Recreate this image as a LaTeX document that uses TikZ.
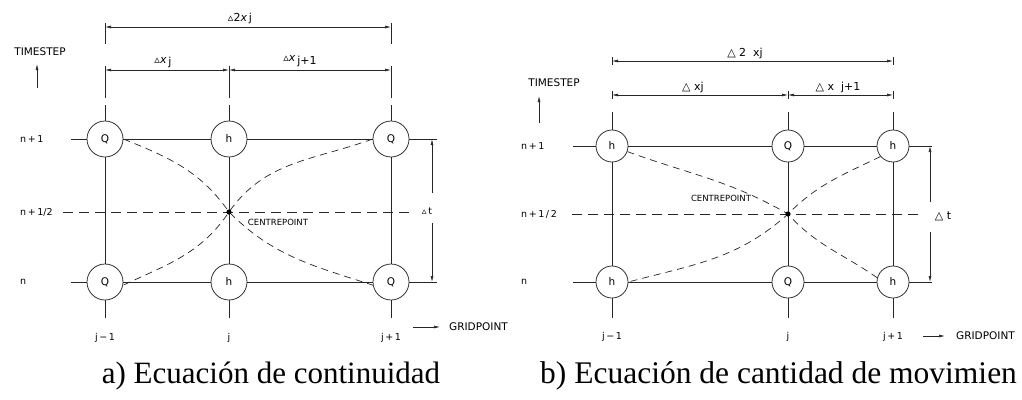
\documentclass[tikz,border=0pt]{standalone}
\usepackage{fontspec}
\setmainfont{Liberation Serif}
\newfontfamily\dsans{DejaVu Sans}
\usetikzlibrary{arrows.meta}
\begin{document}
\begin{tikzpicture}[x=1pt,y=1pt,
  ln/.style={line width=0.75pt, draw=black!85},
  gbig/.style={circle, draw=black!85, line width=0.75pt, fill=white, minimum size=36pt, inner sep=0pt, font=\dsans\fontsize{10.5}{10.5}\selectfont},
  gsmall/.style={circle, draw=black!85, line width=0.75pt, fill=white, minimum size=32pt, inner sep=0pt, font=\dsans\fontsize{10.5}{10.5}\selectfont},
  midline/.style={line width=0.7pt, draw=black!85, dash pattern=on 10pt off 6pt},
  curv/.style={line width=0.7pt, draw=black!85, dash pattern=on 7pt off 5pt},
  dim/.style={line width=0.7pt, draw=black!85, {Latex[length=6pt,width=3pt]}-{Latex[length=6pt,width=3pt]}},
  tip/.style={line width=0.7pt, draw=black!85, -{Latex[length=6pt,width=3pt]}},
  big/.style={font=\dsans\fontsize{10.5}{10.5}\selectfont, inner sep=0pt},
  lbl/.style={font=\dsans\fontsize{9.5}{9.5}\selectfont, inner sep=0pt},
  small/.style={font=\dsans\fontsize{8.5}{8.5}\selectfont, inner sep=0pt},
  dlbl/.style={font=\dsans\fontsize{11}{11}\selectfont, inner sep=0pt},
  captxt/.style={font=\fontsize{31}{31}\selectfont, inner sep=0pt, anchor=base}
]
\path[use as bounding box, fill=white] (0,0) rectangle (1022,-399);

% ================= LEFT DIAGRAM =================
\node[gbig] (a11) at (105,-139) {Q};
\node[gbig] (a12) at (229,-139) {h};
\node[gbig] (a13) at (391,-139) {Q};
\node[gbig] (a21) at (105,-282) {Q};
\node[gbig] (a22) at (229,-282) {h};
\node[gbig] (a23) at (391,-282) {Q};
\coordinate (ac) at (229,-212);

% rows
\coordinate (aw1) at (71,-139);  \coordinate (ae1) at (437,-139);
\coordinate (aw2) at (71,-282);  \coordinate (ae2) at (437,-282);
\draw[ln] (aw1) -- (a11) -- (a12) -- (a13) -- (ae1);
\draw[ln] (aw2) -- (a21) -- (a22) -- (a23) -- (ae2);

% columns
\foreach \n/\x in {1/105,2/229,3/391}{
  \coordinate (at\n) at (\x,-105);
  \coordinate (ab\n) at (\x,-318);
  \coordinate (am\n) at (\x,-66);
  \coordinate (an\n) at (\x,-98);
}
\draw[ln] (at1) -- (a11) -- (a21) -- (ab1);
\draw[ln] (at2) -- (a12) -- (a22) -- (ab2);
\draw[ln] (at3) -- (a13) -- (a23) -- (ab3);
\draw[ln] (am1) -- (an1);
\draw[ln] (am2) -- (an2);
\draw[ln] (am3) -- (an3);
\coordinate (ak1) at (105,-23); \coordinate (ak1b) at (105,-44);
\coordinate (ak3) at (391,-23); \coordinate (ak3b) at (391,-44);
\draw[ln] (ak1) -- (ak1b);
\draw[ln] (ak3) -- (ak3b);

% dimensions
\coordinate (ad1) at (105,-27); \coordinate (ad3) at (391,-27);
\draw[dim] (ad1) -- (ad3);
\node[dlbl] (aD2) at (240,-18) {▵2\textit{x}\,j};
\coordinate (ae1d) at (105,-70); \coordinate (ae2d) at (229,-70); \coordinate (ae3d) at (391,-70);
\draw[dim] (ae1d) -- (ae2d);
\draw[dim] (ae2d) -- (ae3d);
\node[dlbl] (aDx1) at (163,-62) {▵\textit{x}\,\raisebox{-1.5pt}{j}};
\node[dlbl] (aDx2) at (300,-61) {▵\textit{x}\,\raisebox{-3pt}{j+1}};

% delta t
\coordinate (adt1) at (432,-139); \coordinate (adt1b) at (432,-193);
\coordinate (adt2) at (432,-282); \coordinate (adt2b) at (432,-223);
\draw[tip] (adt1b) -- (adt1);
\draw[tip] (adt2b) -- (adt2);
\node[lbl] (aDt) at (427,-211) {▵\,t};

% mid dashed line & centre
\coordinate (amw) at (63,-212); \coordinate (ame) at (412,-212);
\draw[midline] (amw) -- (ame);
\draw[curv] (a11.east) to[out=-22,in=125] (ac) to[out=-45,in=162] (a23.190);
\draw[curv] (a13.west) to[out=200,in=55] (ac) to[out=236,in=25] (a21.-10);
\fill (ac) circle (2.6pt);
\node[small] (aCP) at (278,-222) {CENTREPOINT};

% labels
\node[lbl, anchor=west] (an1l) at (20,-139) {n\,+\,1};
\node[lbl, anchor=west] (anhl) at (20,-212) {n\,+\,1/2};
\node[lbl, anchor=west] (an0l) at (20,-282) {n};
\node[big] (aTS) at (40,-52) {TIMESTEP};
\coordinate (aTSa) at (37,-88); \coordinate (aTSb) at (37,-64);
\draw[tip] (aTSa) -- (aTSb);
\node[lbl] (aj1) at (105,-338) {j\,−\,1};
\node[lbl] (aj2) at (229,-338) {j};
\node[lbl] (aj3) at (391,-338) {j\,+\,1};
\coordinate (agp1) at (413,-327); \coordinate (agp2) at (440,-327);
\draw[tip] (agp1) -- (agp2);
\node[big, anchor=west] (aGP) at (449,-327) {GRIDPOINT};

\node[captxt] (capA) at (271,-383) {a) Ecuación de continuidad};

% ================= RIGHT DIAGRAM =================
\node[gsmall] (b11) at (612,-146) {h};
\node[gsmall] (b12) at (788,-146) {Q};
\node[gsmall] (b13) at (893,-146) {h};
\node[gsmall] (b21) at (612,-282) {h};
\node[gsmall] (b22) at (788,-282) {Q};
\node[gsmall] (b23) at (893,-282) {h};
\coordinate (bc) at (788,-214);

\coordinate (bw1) at (573,-146);  \coordinate (be1) at (932,-146);
\coordinate (bw2) at (573,-282);  \coordinate (be2) at (932,-282);
\draw[ln] (bw1) -- (b11) -- (b12) -- (b13) -- (be1);
\draw[ln] (bw2) -- (b21) -- (b22) -- (b23) -- (be2);

\foreach \n/\x in {1/612,2/788,3/893}{
  \coordinate (bt\n) at (\x,-112);
  \coordinate (bb\n) at (\x,-318);
  \coordinate (bm\n) at (\x,-91);
  \coordinate (bn\n) at (\x,-99);
}
\draw[ln] (bt1) -- (b11) -- (b21) -- (bb1);
\draw[ln] (bt2) -- (b12) -- (b22) -- (bb2);
\draw[ln] (bt3) -- (b13) -- (b23) -- (bb3);
\draw[ln] (bm1) -- (bn1);
\draw[ln] (bm2) -- (bn2);
\draw[ln] (bm3) -- (bn3);
\coordinate (bk1) at (612,-57); \coordinate (bk1b) at (612,-65);
\coordinate (bk3) at (893,-57); \coordinate (bk3b) at (893,-65);
\draw[ln] (bk1) -- (bk1b);
\draw[ln] (bk3) -- (bk3b);

\coordinate (bd1) at (612,-61); \coordinate (bd3) at (893,-61);
\draw[dim] (bd1) -- (bd3);
\node[dlbl] (bD2) at (745,-53) {△ 2\ \ xj};
\coordinate (be1d) at (612,-95); \coordinate (be2d) at (788,-95); \coordinate (be3d) at (893,-95);
\draw[dim] (be1d) -- (be2d);
\draw[dim] (be2d) -- (be3d);
\node[dlbl] (bDx1) at (693,-87) {△ xj};
\node[dlbl] (bDx2) at (838,-87) {△ x\ \ j+1};

\coordinate (bdt1) at (930,-146); \coordinate (bdt1b) at (930,-202);
\coordinate (bdt2) at (930,-282); \coordinate (bdt2b) at (930,-232);
\draw[tip] (bdt1b) -- (bdt1);
\draw[tip] (bdt2b) -- (bdt2);
\node[dlbl] (bDt) at (943,-216) {△ t};

\coordinate (bmw) at (572,-214); \coordinate (bme) at (920,-214);
\draw[midline] (bmw) -- (bme);
\draw[curv] (b11.-20) to[out=-20,in=150] (bc) to[out=-48,in=145] (b23.165);
\draw[curv] (b13.220) to[out=206,in=45] (bc) to[out=222,in=15] (b21.east);
\fill (bc) circle (2.6pt);
\node[small] (bCP) at (721,-198) {CENTREPOINT};

\node[lbl, anchor=west] (bn1l) at (521,-146) {n\,+\,1};
\node[lbl, anchor=west] (bnhl) at (521,-214) {n\,+\,1\,/\,2};
\node[lbl, anchor=west] (bn0l) at (521,-282) {n};
\node[big] (bTS) at (554,-83) {TIMESTEP};
\coordinate (bTSa) at (539,-123); \coordinate (bTSb) at (539,-96);
\draw[tip] (bTSa) -- (bTSb);
\node[lbl] (bj1) at (612,-337) {j\,−\,1};
\node[lbl] (bj2) at (788,-337) {j};
\node[lbl] (bj3) at (893,-337) {j\,+\,1};
\coordinate (bgp1) at (923,-336); \coordinate (bgp2) at (945,-336);
\draw[tip] (bgp1) -- (bgp2);
\node[big, anchor=west] (bGP) at (956,-336) {GRIDPOINT};

\node[captxt, font=\fontsize{31.5}{31.5}\selectfont, anchor=base west] (capB) at (540,-383) {b) Ecuación de cantidad de movimien};
\end{tikzpicture}
\end{document}
